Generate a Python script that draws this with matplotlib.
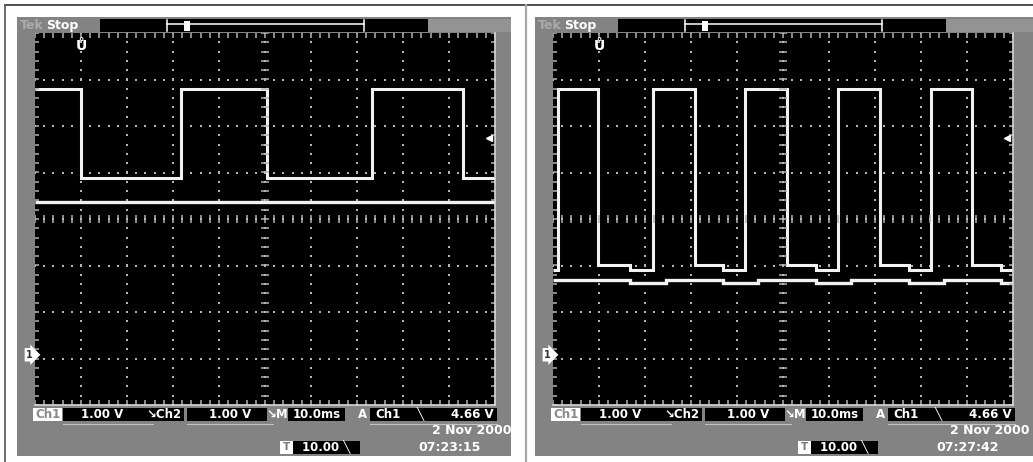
import matplotlib.pyplot as plt
import matplotlib.transforms as mtransforms
from matplotlib.patches import Rectangle
from matplotlib.collections import LineCollection
import numpy as np

W, H = 1033, 462

# screen 1 (07:23:15) - step levels in volts between edge times in ms
s1_ch1_edges = [0, 10.0, 31.7, 50.4, 73.3, 93.0, 100]
s1_ch1_volts = [5.72, 3.80, 5.72, 3.80, 5.72, 3.80]
s1_ch2_edges = [0, 100]
s1_ch2_volts = [3.29]

# screen 2 (07:27:42)
s2_ch1_edges = [0, 1.1, 9.8, 16.7, 21.7, 30.9, 37.0, 41.7, 50.9, 57.2, 62.0,
                71.1, 77.4, 82.2, 91.1, 97.4, 100]
s2_ch1_volts = [1.82, 5.72, 1.93, 1.82, 5.72, 1.93, 1.82, 5.72, 1.93, 1.82,
                5.72, 1.93, 1.82, 5.72, 1.93, 1.82]
s2_ch2_edges = [0, 16.7, 24.5, 37.0, 44.5, 57.2, 64.8, 77.4, 85.0, 97.4, 100]
s2_ch2_volts = [1.61, 1.55, 1.61, 1.55, 1.61, 1.55, 1.61, 1.55, 1.61, 1.55]

volts_per_div = 1.00
ground_div = -2.92
trigger_level = 4.66
trigger_pos = 10.0   # ms (10.00 %)
date_text = "2 Nov 2000"
times = ["07:23:15", "07:27:42"]

GRAY = "#838383"
DOT = "#b4b4b4"
TRACE = "#f2f2f2"

fig = plt.figure(figsize=(W / 100, H / 100), dpi=100)
bg = fig.add_axes([0, 0, 1, 1])
bg.set_xlim(0, W)
bg.set_ylim(H, 0)
bg.axis("off")

# outer frame lines
bg.plot([5, W], [5, 5], color="#404040", lw=1.3)
bg.plot([5, 5], [5, H], color="#606060", lw=1.3)
bg.plot([525.5, 525.5], [5, H], color="#a8a8a8", lw=1.6)

txt = dict(color="white", fontweight="bold", fontsize=8.5, va="center",
           family="DejaVu Sans")


def draw_panel(dx, right_edge, ttime):
    bg.add_patch(Rectangle((dx + 17, 17), right_edge - dx - 17, 439, fc=GRAY, ec="none"))
    bg.add_patch(Rectangle((dx + 428, 19), right_edge - dx - 428, 13, fc="#939393", ec="none"))
    # top status bar
    bg.text(dx + 20, 25.5, "Tek", color="#ababab", fontweight="bold", fontsize=9, va="center")
    bg.text(dx + 46, 25.5, "Stop", color="white", fontweight="bold", fontsize=9, va="center")
    bg.add_patch(Rectangle((dx + 100, 19), 328, 13, fc="black", ec="none"))
    bg.plot([dx + 167, dx + 364], [24, 24], color="white", lw=1.1)
    bg.plot([dx + 167, dx + 167], [20, 31], color="white", lw=1.1)
    bg.plot([dx + 364, dx + 364], [20, 31], color="white", lw=1.1)
    bg.add_patch(Rectangle((dx + 184, 21), 6, 10, fc="white", ec="none"))

    # bottom readouts
    bg.add_patch(Rectangle((dx + 33, 408), 29, 13, fc="white", ec="none"))
    bg.text(dx + 47.5, 414.5, "Ch1", ha="center", **{**txt, "color": "#8a8a8a"})
    bg.add_patch(Rectangle((dx + 63, 408), 121, 13, fc="black", ec="none"))
    bg.text(dx + 102, 414.5, "1.00 V", ha="center", **txt)
    bg.text(dx + 164, 414.5, "\u2198Ch2", ha="center", **txt)
    bg.add_patch(Rectangle((dx + 187, 408), 80, 13, fc="black", ec="none"))
    bg.text(dx + 230, 414.5, "1.00 V", ha="center", **txt)
    bg.text(dx + 277, 414.5, "\u2198M", ha="center", **txt)
    bg.add_patch(Rectangle((dx + 288, 408), 57, 13, fc="black", ec="none"))
    bg.text(dx + 316.5, 414.5, "10.0ms", ha="center", **txt)
    bg.text(dx + 362, 414.5, "A", ha="center", **txt)
    bg.add_patch(Rectangle((dx + 370, 408), 127, 13, fc="black", ec="none"))
    bg.text(dx + 388, 414.5, "Ch1", ha="center", **txt)
    bg.text(dx + 420, 414.5, "\u2572", ha="center", **txt)
    bg.text(dx + 494, 414.5, f"{trigger_level:.2f} V", ha="right", **txt)
    for a, b in [(63, 153), (187, 273), (370, 497)]:
        bg.plot([dx + a, dx + b], [423.5, 423.5], color="#c4c4c4", lw=0.8)

    bg.add_patch(Rectangle((dx + 280, 441), 13, 13, fc="white", ec="none"))
    bg.text(dx + 286.5, 447.5, "T", ha="center", **{**txt, "color": "#777777", "fontsize": 7.5})
    bg.add_patch(Rectangle((dx + 293, 441), 67, 13, fc="black", ec="none"))
    bg.text(dx + 326, 447.5, f"{trigger_pos:.2f} \u2572", ha="center", **txt)
    bg.text(dx + 511, 431, date_text, ha="right", **{**txt, "fontsize": 9})
    bg.text(dx + 450, 447.5, ttime, ha="center", **{**txt, "fontsize": 9})


def draw_screen(x0, ch1_edges, ch1_volts, ch2_edges, ch2_volts):
    ax = fig.add_axes([x0 / W, 1 - 405 / H, 460 / W, 372 / H])
    ax.set_facecolor("black")
    ax.set_xlim(0, 100)
    ax.set_ylim(-4, 4)
    ax.set_xticks([])
    ax.set_yticks([])
    for s in ["top", "left"]:
        ax.spines[s].set_visible(False)
    for s in ["right", "bottom"]:
        ax.spines[s].set_color("#d8d8d8")
        ax.spines[s].set_linewidth(1.2)

    # dotted graticule
    ys = np.arange(-4, 4.01, 0.2)
    xs = np.arange(0, 100.1, 2.0)
    vx, vy = np.meshgrid(np.arange(10, 100, 10), ys)
    hx, hy = np.meshgrid(xs, np.arange(-3, 4, 1))
    ax.scatter(vx.ravel(), vy.ravel(), s=2.4, marker="s", color=DOT, lw=0)
    ax.scatter(hx.ravel(), hy.ravel(), s=2.4, marker="s", color=DOT, lw=0)

    segs = []
    for y in ys:
        segs.append([(49.2, y), (50.8, y)])
        segs.append([(0, y), (0.9, y)])
        segs.append([(99.1, y), (100, y)])
    for x in xs:
        segs.append([(x, -0.09), (x, 0.09)])
        segs.append([(x, 3.9), (x, 4)])
        segs.append([(x, -4), (x, -3.9)])
    ax.add_collection(LineCollection(segs, colors=DOT, linewidths=1.1))

    ax.stairs(np.array(ch2_volts) / volts_per_div + ground_div, ch2_edges,
              baseline=None, color=TRACE, lw=2.4)
    ax.stairs(np.array(ch1_volts) / volts_per_div + ground_div, ch1_edges,
              baseline=None, color=TRACE, lw=2.2)

    blend = mtransforms.blended_transform_factory(ax.transAxes, ax.transData)
    ax.text(-0.004, ground_div, "1", transform=blend, ha="right", va="center",
            fontsize=7, fontweight="bold", color="#333333",
            bbox=dict(boxstyle="rarrow,pad=0.18", fc="white", ec="none"))
    ax.plot([0.988], [trigger_level / volts_per_div + ground_div], marker="<",
            ms=5, color="white", transform=blend, clip_on=False)
    ax.text(trigger_pos, 3.72, "\u016e", ha="center", va="center",
            fontsize=10, fontweight="bold", color="white")
    return ax


draw_panel(0, 511, times[0])
draw_panel(518, W, times[1])
draw_screen(35, s1_ch1_edges, s1_ch1_volts, s1_ch2_edges, s1_ch2_volts)
draw_screen(553, s2_ch1_edges, s2_ch1_volts, s2_ch2_edges, s2_ch2_volts)

fig.savefig("out.png", dpi=100, facecolor="white")
